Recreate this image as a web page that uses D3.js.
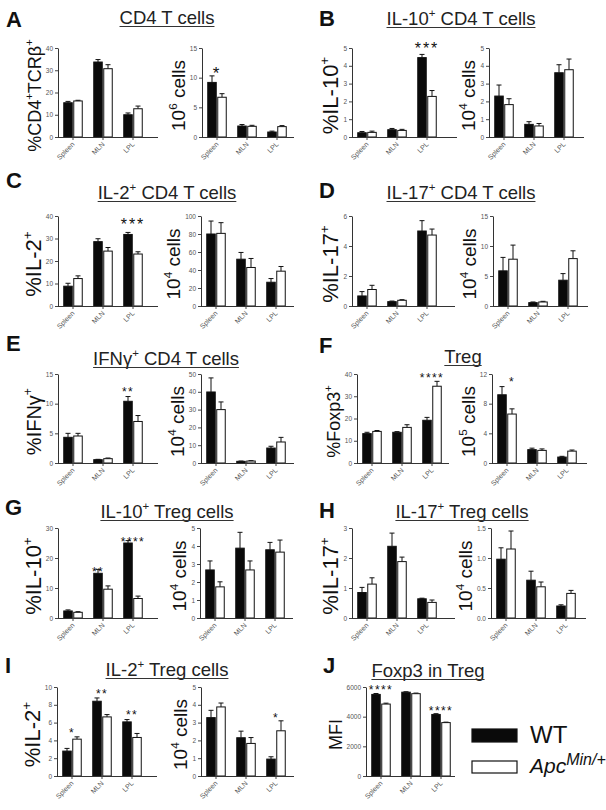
<!DOCTYPE html>
<html><head><meta charset="utf-8">
<script src="https://cdn.jsdelivr.net/npm/d3@7"></script>
<style>
body{margin:0;background:#fff}
svg{display:block;font-family:"Liberation Sans",Arial,Helvetica,sans-serif}
</style>
</head><body>
<svg id="chart" width="606" height="810"></svg>
<script>
// ---------- DATA ----------
const groups = ["Spleen", "MLN", "LPL"];
const seriesNames = ["WT", "Apc"];

// A: CD4 T cells
const A1_wt = [15.4, 33.7, 10.0], A1_wtErr = [0.6, 1.1, 0.8];
const A1_apc = [16.2, 30.7, 12.7], A1_apcErr = [0.3, 1.8, 1.2];
const A2_wt = [9.2, 1.85, 0.84], A2_wtErr = [1.1, 0.25, 0.15];
const A2_apc = [6.7, 1.8, 1.75], A2_apcErr = [0.6, 0.17, 0.17];
// B: IL-10+ CD4 T cells
const B1_wt = [0.24, 0.41, 4.46], B1_wtErr = [0.07, 0.07, 0.18];
const B1_apc = [0.26, 0.37, 2.28], B1_apcErr = [0.07, 0.06, 0.33];
const B2_wt = [2.3, 0.71, 3.61], B2_wtErr = [0.62, 0.15, 0.45];
const B2_apc = [1.82, 0.62, 3.78], B2_apcErr = [0.33, 0.14, 0.6];
// C: IL-2+ CD4 T cells
const C1_wt = [8.8, 28.6, 31.8], C1_wtErr = [1.3, 1.3, 0.9];
const C1_apc = [12.2, 24.4, 23.1], C1_apcErr = [1.2, 1.6, 1.0];
const C2_wt = [80, 52, 26.4], C2_wtErr = [14.4, 7.5, 4.1];
const C2_apc = [80.7, 42.8, 38.7], C2_apcErr = [11.9, 10, 5.2];
// D: IL-17+ CD4 T cells
const D1_wt = [0.67, 0.29, 5.0], D1_wtErr = [0.29, 0.04, 0.69];
const D1_apc = [1.1, 0.38, 4.73], D1_apcErr = [0.28, 0.04, 0.4];
const D2_wt = [5.86, 0.56, 4.3], D2_wtErr = [2.24, 0.11, 1.1];
const D2_apc = [7.8, 0.67, 7.9], D2_apcErr = [2.35, 0.11, 1.3];
// E: IFNg+ CD4 T cells
const E1_wt = [4.33, 0.56, 10.4], E1_wtErr = [0.67, 0.06, 0.8];
const E1_apc = [4.55, 0.73, 7.0], E1_apcErr = [0.45, 0.11, 1.0];
const E2_wt = [39.9, 0.94, 8.4], E2_wtErr = [7.9, 0.16, 1.0];
const E2_apc = [30, 1.1, 11.8], E2_apcErr = [4.3, 0.2, 2.6];
// F: Treg
const F1_wt = [13.2, 13.8, 19.2], F1_wtErr = [0.6, 0.3, 1.3];
const F1_apc = [14.2, 16.0, 34.5], F1_apcErr = [0.4, 1.2, 2.2];
const F2_wt = [9.2, 1.8, 0.8], F2_wtErr = [1.1, 0.2, 0.1];
const F2_apc = [6.6, 1.7, 1.6], F2_apcErr = [0.7, 0.2, 0.15];
// G: IL-10+ Treg cells
const G1_wt = [2.35, 14.9, 25.0], G1_wtErr = [0.35, 1.3, 0.8];
const G1_apc = [1.9, 9.6, 6.5], G1_apcErr = [0.2, 1.1, 0.8];
const G2_wt = [2.67, 3.88, 3.79], G2_wtErr = [0.5, 0.88, 0.41];
const G2_apc = [1.73, 2.67, 3.66], G2_apcErr = [0.28, 0.5, 0.67];
// H: IL-17+ Treg cells
const H1_wt = [0.85, 2.39, 0.64], H1_wtErr = [0.17, 0.44, 0.02];
const H1_apc = [1.13, 1.88, 0.52], H1_apcErr = [0.21, 0.15, 0.08];
const H2_wt = [0.98, 0.63, 0.2], H2_wtErr = [0.19, 0.15, 0.02];
const H2_apc = [1.15, 0.52, 0.41], H2_apcErr = [0.3, 0.08, 0.05];
// I: IL-2+ Treg cells
const I1_wt = [2.8, 8.4, 6.08], I1_wtErr = [0.3, 0.37, 0.26];
const I1_apc = [4.14, 6.64, 4.33], I1_apcErr = [0.26, 0.26, 0.45];
const I2_wt = [3.28, 2.15, 0.95], I2_wtErr = [0.41, 0.37, 0.13];
const I2_apc = [3.88, 1.83, 2.54], I2_apcErr = [0.22, 0.33, 0.56];
// J: Foxp3 in Treg (MFI)
const J1_wt = [5500, 5650, 4150], J1_wtErr = [60, 30, 50];
const J1_apc = [4850, 5550, 3600], J1_apcErr = [60, 40, 30];

// tick values
const t40 = [0, 10, 20, 30, 40], t15 = [0, 5, 10, 15], t5 = [0, 1, 2, 3, 4, 5];
const t100 = [0, 20, 40, 60, 80, 100], t6 = [0, 2, 4, 6], t50 = [0, 10, 20, 30, 40, 50];
const t12 = [0, 4, 8, 12], t30 = [0, 10, 20, 30], t3 = [0, 1, 2, 3];
const t1_5 = [0, 0.5, 1.0, 1.5], t10 = [0, 2, 4, 6, 8, 10], t6000 = [0, 2000, 4000, 6000];

// ---------- LAYOUT ----------
const rows = [
  {top: 48, bottom: 137}, {top: 216, bottom: 306}, {top: 374, bottom: 463},
  {top: 528, bottom: 618}, {top: 687, bottom: 776}
];

const panels = [
  {letter: "A", lx: 6, ly: 27, title: "CD4 T cells", tx: 167, ty: 24},
  {letter: "B", lx: 319, ly: 26, title: "IL-10^{+} CD4 T cells", tx: 461, ty: 25},
  {letter: "C", lx: 6, ly: 188, title: "IL-2^{+} CD4 T cells", tx: 167, ty: 199},
  {letter: "D", lx: 319, ly: 198, title: "IL-17^{+} CD4 T cells", tx: 461, ty: 199},
  {letter: "E", lx: 6, ly: 351, title: "IFNγ^{+} CD4 T cells", tx: 166, ty: 365},
  {letter: "F", lx: 319, ly: 353, title: "Treg", tx: 463, ty: 363},
  {letter: "G", lx: 5, ly: 515, title: "IL-10^{+} Treg cells", tx: 167, ty: 518},
  {letter: "H", lx: 319, ly: 518, title: "IL-17^{+} Treg cells", tx: 462, ty: 518},
  {letter: "I", lx: 5, ly: 673, title: "IL-2^{+} Treg cells", tx: 167, ty: 676},
  {letter: "J", lx: 323, ly: 673, title: "Foxp3 in Treg", tx: 428, ty: 677}
];

const charts = [
  {r: 0, x: 58, w: 90, end: 100, wt: A1_wt, wtErr: A1_wtErr, apc: A1_apc, apcErr: A1_apcErr, max: 40, ticks: t40, label: "%CD4^{+}TCRβ^{+}", lfs: 18},
  {r: 0, x: 202, w: 90, end: 92, wt: A2_wt, wtErr: A2_wtErr, apc: A2_apc, apcErr: A2_apcErr, max: 15, ticks: t15, label: "10^{6} cells", lfs: 19,
    sig: [{g: 0, t: "*", at: -1, off: 7, fs: 17}]},
  {r: 0, x: 352, w: 90, end: 105, wt: B1_wt, wtErr: B1_wtErr, apc: B1_apc, apcErr: B1_apcErr, max: 5, ticks: t5, label: "%IL-10^{+}", lfs: 22,
    sig: [{g: 2, t: "***", at: -1, off: 10, fs: 16}]},
  {r: 0, x: 489, w: 90, end: 95, wt: B2_wt, wtErr: B2_wtErr, apc: B2_apc, apcErr: B2_apcErr, max: 5, ticks: t5, label: "10^{4} cells", lfs: 19},

  {r: 1, x: 58, w: 90, end: 100, wt: C1_wt, wtErr: C1_wtErr, apc: C1_apc, apcErr: C1_apcErr, max: 40, ticks: t40, label: "%IL-2^{+}", lfs: 22,
    sig: [{g: 2, t: "***", at: -1, off: 12, fs: 16}]},
  {r: 1, x: 201, w: 90, end: 93, wt: C2_wt, wtErr: C2_wtErr, apc: C2_apc, apcErr: C2_apcErr, max: 100, ticks: t100, label: "10^{4} cells", lfs: 19},
  {r: 1, x: 352, w: 90, end: 103, wt: D1_wt, wtErr: D1_wtErr, apc: D1_apc, apcErr: D1_apcErr, max: 6, ticks: t6, label: "%IL-17^{+}", lfs: 22},
  {r: 1, x: 493, w: 90, end: 95, wt: D2_wt, wtErr: D2_wtErr, apc: D2_apc, apcErr: D2_apcErr, max: 15, ticks: t15, label: "10^{4} cells", lfs: 19},

  {r: 2, x: 58, w: 90, end: 100, wt: E1_wt, wtErr: E1_wtErr, apc: E1_apc, apcErr: E1_apcErr, max: 15, ticks: t15, label: "%IFNγ^{+}", lfs: 20,
    sig: [{g: 2, t: "**", at: 0, off: 8, fs: 12}]},
  {r: 2, x: 201, w: 90, end: 93, wt: E2_wt, wtErr: E2_wtErr, apc: E2_apc, apcErr: E2_apcErr, max: 50, ticks: t50, label: "10^{4} cells", lfs: 19},
  {r: 2, x: 357, w: 90, end: 92, wt: F1_wt, wtErr: F1_wtErr, apc: F1_apc, apcErr: F1_apcErr, max: 40, ticks: t40, label: "%Foxp3^{+}", lfs: 18,
    sig: [{g: 2, t: "****", at: -1, off: 6, fs: 12}]},
  {r: 2, x: 492, w: 90, end: 95, wt: F2_wt, wtErr: F2_wtErr, apc: F2_apc, apcErr: F2_apcErr, max: 12, ticks: t12, label: "10^{5} cells", lfs: 19,
    sig: [{g: 0, t: "*", at: 1, off: 8, fs: 12}]},

  {r: 3, x: 58, w: 90, end: 100, wt: G1_wt, wtErr: G1_wtErr, apc: G1_apc, apcErr: G1_apcErr, max: 30, ticks: t30, label: "%IL-10^{+}", lfs: 22,
    sig: [{g: 1, t: "**", at: 0, off: 0, fs: 12}, {g: 2, t: "****", at: -1, off: 1.5, fs: 12}]},
  {r: 3, x: 200, w: 90, end: 93, wt: G2_wt, wtErr: G2_wtErr, apc: G2_apc, apcErr: G2_apcErr, max: 5, ticks: t5, label: "10^{4} cells", lfs: 19},
  {r: 3, x: 352, w: 90, end: 103, wt: H1_wt, wtErr: H1_wtErr, apc: H1_apc, apcErr: H1_apcErr, max: 3, ticks: t3, label: "%IL-17^{+}", lfs: 22},
  {r: 3, x: 491, w: 90, end: 95, wt: H2_wt, wtErr: H2_wtErr, apc: H2_apc, apcErr: H2_apcErr, max: 1.5, ticks: t1_5, label: "10^{4} cells", lfs: 19, fmt: ".1f"},

  {r: 4, x: 57, w: 90, end: 100, wt: I1_wt, wtErr: I1_wtErr, apc: I1_apc, apcErr: I1_apcErr, max: 10, ticks: t10, label: "%IL-2^{+}", lfs: 22,
    sig: [{g: 0, t: "*", at: -1, off: 7, fs: 12}, {g: 1, t: "**", at: -1, off: 7, fs: 12}, {g: 2, t: "**", at: -1, off: 7.5, fs: 12}]},
  {r: 4, x: 201, w: 90, end: 93, wt: I2_wt, wtErr: I2_wtErr, apc: I2_apc, apcErr: I2_apcErr, max: 5, ticks: t5, label: "10^{4} cells", lfs: 19,
    sig: [{g: 2, t: "*", at: -1, off: 6, fs: 12}]},
  {r: 4, x: 366, w: 90, end: 89, wt: J1_wt, wtErr: J1_wtErr, apc: J1_apc, apcErr: J1_apcErr, max: 6000, ticks: t6000, label: "MFI", lfs: 18,
    sig: [{g: 0, t: "****", at: -1, off: 6, fs: 12}, {g: 2, t: "****", at: -1, off: 6, fs: 12}]}
];

// ---------- DRAW ----------
const svg = d3.select("#chart");
svg.append("rect").attr("width", 606).attr("height", 810).attr("fill", "#fff");

function rich(sel, str, fs) {
  const parts = str.split(/(\^\{[^}]*\})/).filter(s => s.length);
  let raised = false;
  parts.forEach(p => {
    if (p.startsWith("^{")) {
      sel.append("tspan").attr("dy", -0.42 * fs).attr("font-size", 0.62 * fs).text(p.slice(2, -1));
      raised = true;
    } else {
      const t = sel.append("tspan").text(p);
      if (raised) { t.attr("dy", 0.42 * fs); raised = false; }
    }
  });
}

// panel letters and titles
panels.forEach(p => {
  svg.append("text").attr("x", p.lx).attr("y", p.ly)
    .attr("font-size", 22).attr("font-weight", "bold").attr("fill", "#111").text(p.letter);
  const t = svg.append("text").attr("x", p.tx).attr("y", p.ty)
    .attr("text-anchor", "middle").attr("font-size", 18.5).attr("fill", "#222");
  rich(t, p.title, 18.5);
  const bb = t.node().getBBox();
  svg.append("line").attr("x1", bb.x).attr("x2", bb.x + bb.width)
    .attr("y1", p.ty + 2.5).attr("y2", p.ty + 2.5)
    .attr("stroke", "#333").attr("stroke-width", 1);
});

function drawChart(c) {
  const top = rows[c.r].top, bottom = rows[c.r].bottom;
  const g = svg.append("g");
  const y = d3.scaleLinear().domain([0, c.max]).range([bottom, top]);
  const x = d3.scaleBand().domain(groups).range([c.x, c.x + c.w]);
  const xi = d3.scaleBand().domain([0, 1]).range([0, x.bandwidth()])
    .paddingInner(0.15).paddingOuter(0.575);

  const series = [
    {v: c.wt, e: c.wtErr, fill: "#0a0a0a"},
    {v: c.apc, e: c.apcErr, fill: "#ffffff"}
  ];
  series.forEach((s, si) => {
    const data = groups.map((k, i) => ({k, v: s.v[i], e: s.e[i]}));
    const cxf = d => x(d.k) + xi(si) + xi.bandwidth() / 2;
    g.selectAll(null).data(data).join("line")
      .attr("x1", cxf).attr("x2", cxf)
      .attr("y1", d => y(d.v)).attr("y2", d => y(d.v + d.e))
      .attr("stroke", "#111").attr("stroke-width", 1);
    g.selectAll(null).data(data).join("line")
      .attr("x1", d => cxf(d) - 2.5).attr("x2", d => cxf(d) + 2.5)
      .attr("y1", d => y(d.v + d.e)).attr("y2", d => y(d.v + d.e))
      .attr("stroke", "#111").attr("stroke-width", 1);
    g.selectAll(null).data(data).join("rect")
      .attr("x", d => x(d.k) + xi(si)).attr("width", xi.bandwidth())
      .attr("y", d => y(d.v)).attr("height", d => y(0) - y(d.v))
      .attr("fill", s.fill).attr("stroke", "#111").attr("stroke-width", 1);
  });

  const ya = g.append("g").attr("transform", `translate(${c.x},0)`)
    .call(d3.axisLeft(y).tickValues(c.ticks).tickSize(3).tickSizeOuter(0).tickPadding(2)
      .tickFormat(d3.format(c.fmt || "d")));
  ya.attr("font-size", 6.5).attr("font-family", null);
  ya.selectAll("text").attr("fill", "#555");
  ya.selectAll("line").attr("stroke", "#444");
  ya.select(".domain").attr("stroke", "#333");

  const xa = g.append("g").attr("transform", `translate(0,${bottom})`)
    .call(d3.axisBottom(x).tickSize(3).tickSizeOuter(0));
  xa.attr("font-size", 7).attr("font-family", null);
  xa.select(".domain").attr("d", `M${c.x},0.5H${c.x + c.end}`).attr("stroke", "#333");
  xa.selectAll("line").attr("stroke", "#444");
  xa.selectAll("text").attr("x", -4).attr("y", 7).attr("dy", 0)
    .attr("transform", "rotate(-45)").style("text-anchor", "end").attr("fill", "#555");

  const bb = ya.node().getBBox();
  const lx = c.x + bb.x - 5;
  const cy = (top + bottom) / 2 + 3;
  const lab = g.append("text").attr("transform", `translate(${lx},${cy}) rotate(-90)`)
    .attr("text-anchor", "middle").attr("font-size", c.lfs).attr("fill", "#111");
  rich(lab, c.label, c.lfs);

  (c.sig || []).forEach(s => {
    const tv = Math.max(c.wt[s.g] + c.wtErr[s.g], c.apc[s.g] + c.apcErr[s.g]);
    const cx = s.at < 0 ? x(groups[s.g]) + x.bandwidth() / 2
                        : x(groups[s.g]) + xi(s.at) + xi.bandwidth() / 2;
    const cyS = y(tv) - s.off;
    g.append("text").attr("x", cx).attr("y", cyS + 0.58 * s.fs)
      .attr("text-anchor", "middle").attr("font-size", s.fs)
      .attr("letter-spacing", s.fs * 0.12).attr("fill", "#111").text(s.t);
  });
}
charts.forEach(drawChart);

// legend
const leg = svg.append("g");
const legFill = ["#0a0a0a", "#ffffff"];
const legY = [729, 761];
seriesNames.forEach((n, i) => {
  leg.append("rect").attr("x", 472).attr("y", legY[i]).attr("width", 45).attr("height", i ? 12 : 13)
    .attr("fill", legFill[i]).attr("stroke", "#111").attr("stroke-width", 1.2);
});
leg.append("text").attr("x", 530).attr("y", 743).attr("font-size", 24).attr("fill", "#111").text(seriesNames[0]);
const apcT = leg.append("text").attr("x", 530).attr("y", 773).attr("font-size", 21)
  .attr("font-style", "italic").attr("fill", "#111");
apcT.append("tspan").text(seriesNames[1]);
apcT.append("tspan").attr("dy", -8).attr("font-size", 16).text("Min/+");
</script>
</body></html>
